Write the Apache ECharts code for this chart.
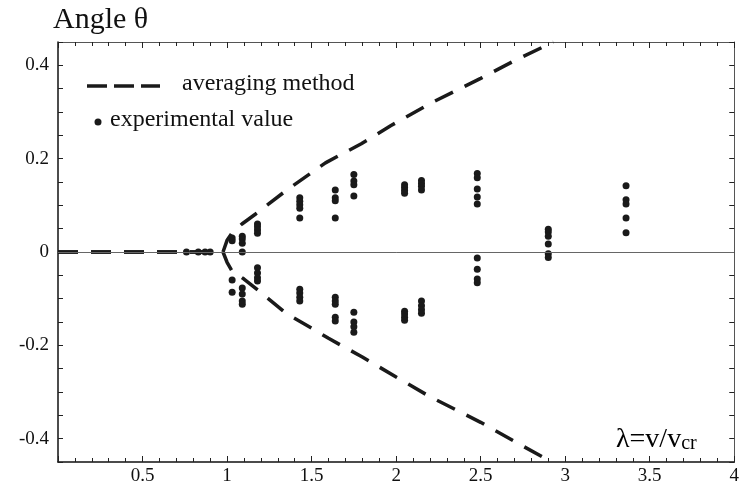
<!DOCTYPE html>
<html>
<head>
<meta charset="utf-8">
<script src="https://cdn.jsdelivr.net/npm/echarts@6/dist/echarts.min.js"></script>
<style>
html,body{margin:0;padding:0;background:#fff;}
#main{width:742px;height:491px;}
</style>
</head>
<body>
<div id="main"></div>
<script>
// averaging method, upper and lower branch
var upperLambda = [0, 0.976, 1.0, 1.03, 1.088, 1.171, 1.347, 1.582, 1.794, 1.97, 2.2, 2.5, 2.7, 2.93];
var upperTheta  = [0, 0, 0.025, 0.041, 0.060, 0.082, 0.131, 0.191, 0.232, 0.271, 0.318, 0.372, 0.410, 0.45];
var lowerLambda = [0, 0.976, 1.0, 1.03, 1.1, 1.19, 1.247, 1.347, 1.5, 1.6, 1.8, 2.0, 2.2, 2.5, 2.735, 2.92];
var lowerTheta  = [0, 0, -0.022, -0.041, -0.058, -0.084, -0.101, -0.131, -0.163, -0.185, -0.225, -0.268, -0.310, -0.365, -0.413, -0.45];

// experimental values, one column per lambda
var dotLambda = [0.76, 0.83, 0.87, 0.90, 1.03, 1.09, 1.18, 1.43, 1.64, 1.75, 2.05, 2.15, 2.48, 2.90, 3.36];
var dotTheta = [
  [0],
  [0],
  [0],
  [0],
  [0.030, 0.024, -0.060, -0.086],
  [0.034, 0.028, 0.019, 0, -0.077, -0.090, -0.105, -0.112],
  [0.060, 0.054, 0.047, 0.040, -0.034, -0.045, -0.055, -0.062],
  [0.116, 0.109, 0.101, 0.094, 0.073, -0.080, -0.088, -0.097, -0.105],
  [0.133, 0.116, 0.110, 0.073, -0.097, -0.105, -0.112, -0.140, -0.148],
  [0.166, 0.152, 0.144, 0.120, -0.129, -0.150, -0.160, -0.172],
  [0.144, 0.138, 0.132, 0.126, -0.127, -0.133, -0.140, -0.146],
  [0.153, 0.147, 0.141, 0.133, -0.105, -0.115, -0.124, -0.131],
  [0.168, 0.159, 0.135, 0.118, 0.103, -0.013, -0.037, -0.058, -0.066],
  [0.049, 0.043, 0.034, 0.017, -0.004, -0.012],
  [0.142, 0.112, 0.103, 0.073, 0.041]
];

var FONT = 'Liberation Serif';
var INK = '#1a1a1a';

function pairs(xs, ys){
  var out = [];
  for (var i = 0; i < xs.length; i++) out.push([xs[i], ys[i]]);
  return out;
}

var dots = [];
for (var i = 0; i < dotLambda.length; i++){
  for (var j = 0; j < dotTheta[i].length; j++){
    dots.push([dotLambda[i], dotTheta[i][j]]);
  }
}

var myChart = echarts.init(document.getElementById('main'));

var xBase = {
  type: 'value', min: 0, max: 4, interval: 0.5,
  splitLine: {show: false},
  minorTick: {show: true, splitNumber: 5, length: 4, lineStyle: {color: '#222'}},
  axisTick: {show: true, inside: true, length: 6, lineStyle: {color: '#222'}}
};
var yBase = {
  type: 'value', min: -0.45, max: 0.45, interval: 0.05,
  splitLine: {show: false},
  axisTick: {show: true, inside: true, length: 5, lineStyle: {color: '#222'}}
};

var option = {
  animation: false,
  grid: {left: 58, right: 4, top: 42, bottom: 29},
  xAxis: [
    echarts.util.merge({
      position: 'bottom',
      axisLine: {onZero: false, lineStyle: {color: '#111', width: 1.5}},
      axisLabel: {
        fontFamily: FONT, fontSize: 19, color: '#111', margin: 5,
        formatter: function(v){ return v === 0 ? '' : String(v); }
      }
    }, xBase, true),
    echarts.util.merge({
      position: 'top',
      axisLine: {onZero: false, lineStyle: {color: '#555', width: 1}},
      axisLabel: {show: false}
    }, xBase, true)
  ],
  yAxis: [
    echarts.util.merge({
      position: 'left',
      axisLine: {onZero: false, lineStyle: {color: '#111', width: 1.5}},
      axisLabel: {
        fontFamily: FONT, fontSize: 19, color: '#111', margin: 9,
        formatter: function(v){
          var r = Math.round(v * 100);
          if (r % 20 !== 0) return '';
          return r === 0 ? '0' : String(r / 100);
        }
      }
    }, yBase, true),
    echarts.util.merge({
      position: 'right',
      axisLine: {onZero: false, lineStyle: {color: '#555', width: 1}},
      axisLabel: {show: false}
    }, yBase, true)
  ],
  graphic: [
    {type: 'text', left: 53, top: 5,
     style: {text: 'Angle θ', font: '30px "Liberation Serif"', fill: '#111'}},
    {type: 'line', shape: {x1: 87, y1: 86, x2: 160, y2: 86},
     style: {stroke: INK, lineWidth: 3.5, lineDash: [20, 7]}},
    {type: 'text', x: 182, y: 84,
     style: {text: 'averaging method', font: '24px "Liberation Serif"', fill: '#111', textVerticalAlign: 'middle'}},
    {type: 'circle', shape: {cx: 98, cy: 122, r: 3.5}, style: {fill: INK}},
    {type: 'text', x: 110, y: 120,
     style: {text: 'experimental value', font: '24px "Liberation Serif"', fill: '#111', textVerticalAlign: 'middle'}},
    {type: 'text', x: 616, y: 440,
     style: {
       text: '{a|λ=v/v}{b|cr}',
       textVerticalAlign: 'middle',
       rich: {
         a: {fontFamily: FONT, fontSize: 28, color: '#111', verticalAlign: 'bottom'},
         b: {fontFamily: FONT, fontSize: 20, color: '#111', verticalAlign: 'bottom'}
       }
     }}
  ],
  series: [
    {
      name: 'zero', type: 'scatter', data: [], silent: true,
      markLine: {
        silent: true, symbol: 'none', label: {show: false},
        lineStyle: {color: '#666', width: 1, type: 'solid'},
        data: [{yAxis: 0}]
      }
    },
    {
      name: 'averaging method upper', type: 'line', data: pairs(upperLambda, upperTheta),
      showSymbol: false, symbol: 'none', clip: true,
      lineStyle: {color: INK, width: 3.5, type: [20, 13]}
    },
    {
      name: 'averaging method lower', type: 'line', data: pairs(lowerLambda, lowerTheta),
      showSymbol: false, symbol: 'none', clip: true,
      lineStyle: {color: INK, width: 3.5, type: [20, 13]}
    },
    {
      name: 'experimental value', type: 'scatter', data: dots,
      symbol: 'circle', symbolSize: 7,
      itemStyle: {color: INK, opacity: 1}
    }
  ]
};

myChart.setOption(option);
</script>
</body>
</html>
